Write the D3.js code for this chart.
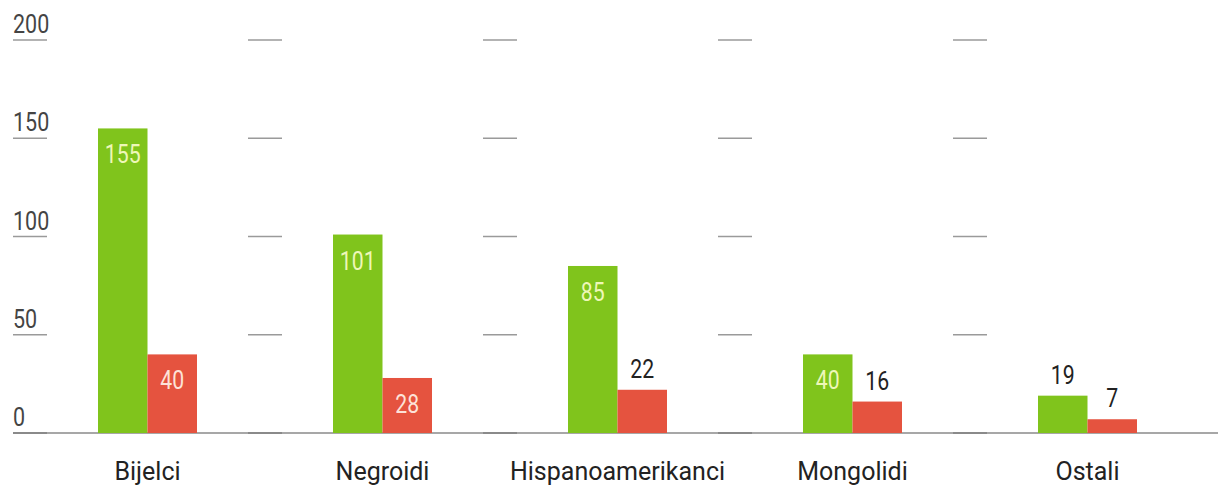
<!DOCTYPE html>
<html>
<head>
<meta charset="utf-8">
<script src="https://cdn.jsdelivr.net/npm/d3@7"></script>
<style>
html,body{margin:0;padding:0;background:#fff;}
svg{display:block;}
text{font-family:Roboto,"Liberation Sans",sans-serif;}
</style>
</head>
<body>
<svg id="chart" width="1218" height="491"></svg>
<script>
const categories = ["Bijelci","Negroidi","Hispanoamerikanci","Mongolidi","Ostali"];
const seriesA = [155, 101, 85, 40, 19];
const seriesB = [40, 28, 22, 16, 7];
const tickValues = [0, 50, 100, 150, 200];
const tickLabels = ["0","50","100","150","200"];

const W = 1218, H = 491;
const svg = d3.select("#chart");
const yScale = d3.scaleLinear().domain([0, 200]).range([433, 40]);
const x = d3.scaleBand().domain(categories).range([30, 1205]).paddingInner(0).paddingOuter(0);
const sub = d3.scaleBand().domain(["a","b"]).range([x.bandwidth()/2 - 49.5, x.bandwidth()/2 + 49.5]);
const colors = {a:"#80c41c", b:"#e5533f"};
const inside = {a:"#eef7b8", b:"#fde2d8"};

// gridline segments at band boundaries
const bounds = categories.map(c => x(c));
tickValues.forEach((t,i) => {
  bounds.forEach(b => {
    svg.append("line").attr("x1", b-17).attr("x2", b+17)
      .attr("y1", yScale(t)).attr("y2", yScale(t))
      .attr("stroke", t===0 ? "#666" : "#9a9a9a").attr("stroke-width", 1.6);
  });
  svg.append("text").attr("transform", `translate(13,${yScale(t)-7}) scale(0.86,1)`)
    .attr("font-size", 25).attr("fill", "#444").text(tickLabels[i]);
});

// baseline
svg.append("line").attr("x1", 13).attr("x2", W).attr("y1", yScale(0)).attr("y2", yScale(0))
  .attr("stroke", "#8a8a8a").attr("stroke-width", 1.6);

const data = categories.map((c,i) => ({c, vals:[{k:"a", v:seriesA[i]},{k:"b", v:seriesB[i]}]}));
const g = svg.selectAll("g.grp").data(data).join("g").attr("class","grp")
  .attr("transform", d => `translate(${x(d.c)},0)`);

g.selectAll("rect").data(d => d.vals).join("rect")
  .attr("x", d => sub(d.k)).attr("width", sub.bandwidth())
  .attr("y", d => yScale(d.v)).attr("height", d => yScale(0) - yScale(d.v))
  .attr("fill", d => colors[d.k]);

g.selectAll("text.val").data(d => d.vals).join("text").attr("class","val")
  .attr("transform", d => {
    const cx = sub(d.k) + sub.bandwidth()/2;
    const top = yScale(d.v);
    const yy = d.v >= 25 ? top + 35 : top - 12;
    return `translate(${cx},${yy}) scale(0.85,1)`;
  })
  .attr("text-anchor","middle").attr("font-size", 25)
  .attr("fill", d => d.v >= 25 ? inside[d.k] : "#222")
  .text(d => d.v);

g.append("text").attr("x", x.bandwidth()/2).attr("y", 480)
  .attr("text-anchor","middle").attr("font-size", 25).attr("fill","#222")
  .text(d => d.c);
</script>
</body>
</html>
